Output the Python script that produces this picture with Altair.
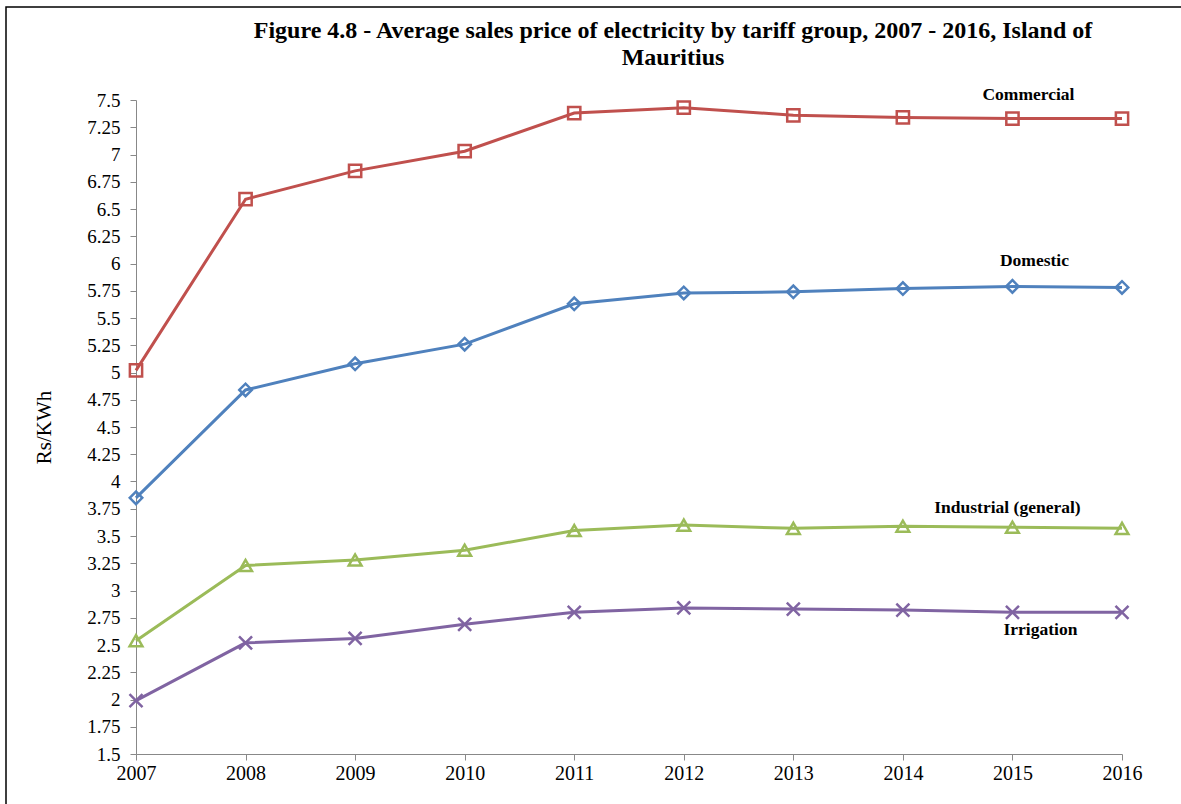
import altair as alt
import pandas as pd

# Average sales price (Rs/KWh) by tariff group, 2007-2016
years = [2007, 2008, 2009, 2010, 2011, 2012, 2013, 2014, 2015, 2016]
commercial = [5.02, 6.59, 6.85, 7.03, 7.38, 7.43, 7.36, 7.34, 7.33, 7.33]
domestic = [3.85, 4.84, 5.08, 5.26, 5.63, 5.73, 5.74, 5.77, 5.79, 5.78]
industrial = [2.54, 3.23, 3.28, 3.37, 3.55, 3.60, 3.57, 3.59, 3.58, 3.57]
irrigation = [1.99, 2.52, 2.56, 2.69, 2.80, 2.84, 2.83, 2.82, 2.80, 2.80]

series_names = ["Commercial", "Domestic", "Industrial (general)", "Irrigation"]
series_values = [commercial, domestic, industrial, irrigation]
series_colors = ["#C0504D", "#4F81BD", "#9BBB59", "#8064A2"]
series_shapes = ["square", "diamond", "triangle-up", "M-1,-1L1,1M-1,1L1,-1"]
series_sizes = [150, 170, 150, 110]

y_ticks = [1.5, 1.75, 2, 2.25, 2.5, 2.75, 3, 3.25, 3.5, 3.75, 4, 4.25, 4.5,
           4.75, 5, 5.25, 5.5, 5.75, 6, 6.25, 6.5, 6.75, 7, 7.25, 7.5]

rows = []
for name, vals in zip(series_names, series_values):
    for yr, v in zip(years, vals):
        rows.append({"year": yr, "price": v, "group": name})
df = pd.DataFrame(rows)

SERIF = "Liberation Serif"

x_enc = alt.X(
    "year:Q",
    scale=alt.Scale(domain=[2007, 2016], nice=False, zero=False),
    axis=alt.Axis(values=years, format="d", title=None, grid=False,
                  labelFont=SERIF, labelFontSize=20, labelColor="black",
                  domainColor="#888888", tickColor="#888888", tickSize=6,
                  labelPadding=3, labelFlush=False),
)
y_enc = alt.Y(
    "price:Q",
    scale=alt.Scale(domain=[1.5, 7.5], nice=False, zero=False),
    axis=alt.Axis(values=y_ticks, labelExpr="'' + datum.value", title="Rs/KWh",
                  grid=False, labelFont=SERIF, labelFontSize=19, labelColor="black",
                  domainColor="#888888", tickColor="#888888", tickSize=6,
                  labelPadding=10, titleFont=SERIF, titleFontSize=21,
                  titleFontWeight="normal", titleColor="black",
                  titleX=-92, titleBaseline="middle", titleAngle=270),
)
color_enc = alt.Color("group:N", scale=alt.Scale(domain=series_names, range=series_colors), legend=None)

base = alt.Chart(df)

lines = base.mark_line(strokeWidth=3).encode(x=x_enc, y=y_enc, color=color_enc, detail="group:N")

points = base.mark_point(filled=False, strokeWidth=2.5, opacity=1).encode(
    x=x_enc,
    y=y_enc,
    color=color_enc,
    shape=alt.Shape("group:N", scale=alt.Scale(domain=series_names, range=series_shapes), legend=None),
    size=alt.Size("group:N", scale=alt.Scale(domain=series_names, range=series_sizes), legend=None),
)

# series names placed next to the 2015 point of each line
label_offsets = {
    "Commercial": (16, -24),
    "Domestic": (22, -25),
    "Industrial (general)": (-5, -19),
    "Irrigation": (28, 18),
}
labels = []
for name in series_names:
    dx, dy = label_offsets[name]
    labels.append(
        base.transform_filter(
            (alt.datum.group == name) & (alt.datum.year == 2015)
        ).mark_text(font=SERIF, fontSize=17.5, fontWeight="bold", color="black",
                    align="center", baseline="middle", dx=dx, dy=dy)
        .encode(x=x_enc, y=y_enc, text="group:N")
    )

# outer frame around the figure
frame = alt.Chart(pd.DataFrame({"f": [0]})).mark_rect(
    fillOpacity=0, stroke="black", strokeWidth=1.5
).encode(x=alt.value(-130), x2=alt.value(1060), y=alt.value(-93), y2=alt.value(720))

chart = alt.layer(frame, lines, points, *labels).properties(
    width=986,
    height=654,
    title=alt.TitleParams(
        text=["Figure 4.8 - Average sales price of electricity by tariff group, 2007 - 2016, Island of",
              "Mauritius"],
        font=SERIF, fontSize=24, fontWeight="bold", color="black",
        anchor="middle", dx=44, dy=64, offset=0, lineHeight=27, frame="group",
    ),
    autosize=alt.AutoSizeParams(type="none"),
    padding={"left": 136, "top": 100, "right": 59, "bottom": 50},
).configure(background="white").configure_view(stroke=None)

chart.save("out.html", embed_options={"renderer": "svg", "actions": False})
